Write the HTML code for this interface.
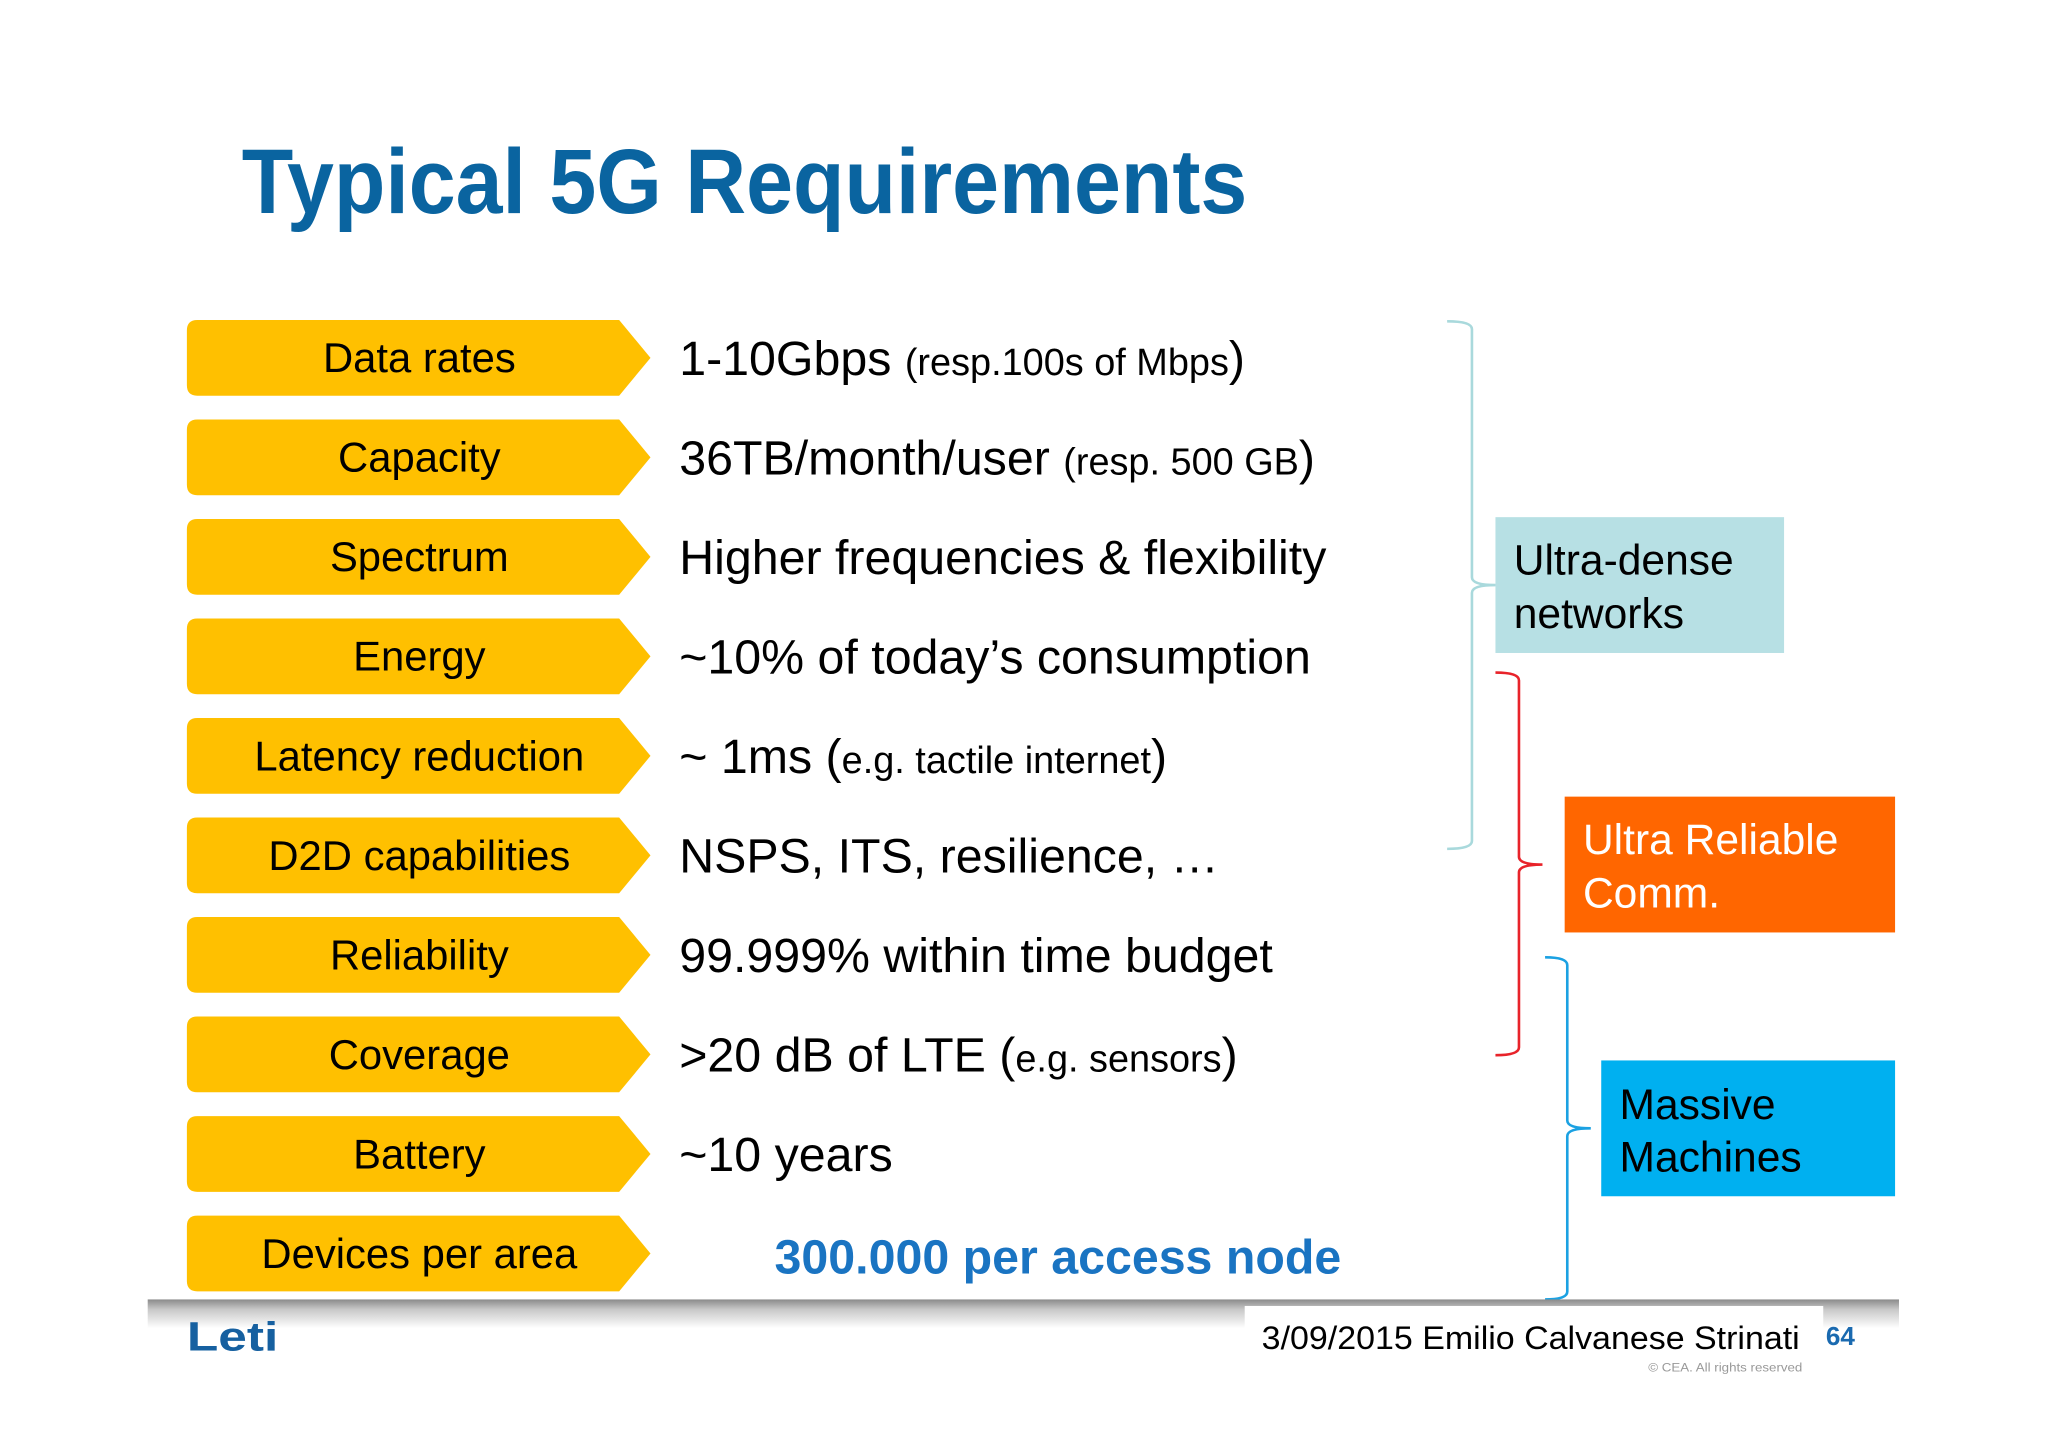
<!DOCTYPE html>
<html><head><meta charset="utf-8"><style>
html,body{margin:0;padding:0;background:#fff;}
svg{display:block;font-family:"Liberation Sans",Arial,sans-serif;}
</style></head><body>
<svg width="2048" height="1447" viewBox="0 0 1568 1108" xmlns="http://www.w3.org/2000/svg">
<defs>
<linearGradient id="fg" x1="0" y1="0" x2="0" y2="1">
<stop offset="0" stop-color="#8a8a8a"/><stop offset="0.35" stop-color="#c8c8c8"/><stop offset="1" stop-color="#ffffff"/>
</linearGradient>
</defs>
<rect width="1568" height="1108" fill="#ffffff"/>
<text x="185" y="163" font-size="70" font-weight="bold" fill="#0a64a0" textLength="770" lengthAdjust="spacingAndGlyphs">Typical 5G Requirements</text>

<g id="rows"></g>

<text x="593" y="975" font-size="37" font-weight="bold" fill="#1a74c2">300.000 per access node</text>

<path d="M1108,246 Q1127,246 1127,252 L1127,442 Q1127,448 1145,448 Q1127,448 1127,454 L1127,644 Q1127,650 1108,650" fill="none" stroke="#a9d9dc" stroke-width="2"/>
<path d="M1145,515 Q1163,515 1163,521 L1163,656 Q1163,662 1181,662 Q1163,662 1163,668 L1163,802 Q1163,808 1145,808" fill="none" stroke="#e8232a" stroke-width="2"/>
<path d="M1183,733 Q1200,733 1200,739 L1200,858 Q1200,864 1218,864 Q1200,864 1200,870 L1200,989 Q1200,995 1183,995" fill="none" stroke="#1ba1e2" stroke-width="2"/>

<rect x="1145" y="396" width="221" height="104" fill="#b7e0e4"/>
<text font-size="32.6" fill="#000"><tspan x="1159" y="440">Ultra-dense</tspan><tspan x="1159" y="481">networks</tspan></text>
<rect x="1198" y="610" width="253" height="104" fill="#ff6600"/>
<text font-size="32.6" fill="#fff"><tspan x="1212" y="654">Ultra Reliable</tspan><tspan x="1212" y="695">Comm.</tspan></text>
<rect x="1226" y="812" width="225" height="104" fill="#00b0f0"/>
<text font-size="32.6" fill="#000"><tspan x="1240" y="857">Massive</tspan><tspan x="1240" y="897">Machines</tspan></text>

<rect x="113" y="995" width="1341" height="22" fill="url(#fg)"/>
<rect x="953" y="1000" width="443" height="46" fill="#ffffff"/>
<text x="143" y="1034" font-size="31" font-weight="bold" fill="#1660a0" textLength="70" lengthAdjust="spacingAndGlyphs">Leti</text>
<text x="966" y="1033" font-size="25" fill="#000" textLength="412" lengthAdjust="spacingAndGlyphs">3/09/2015 Emilio Calvanese Strinati</text>
<text x="1398" y="1030" font-size="20" font-weight="bold" fill="#1a6ab0">64</text>
<text x="1262" y="1050" font-size="9" fill="#999" textLength="118" lengthAdjust="spacingAndGlyphs">© CEA. All rights reserved</text>
</svg>
<script>
const labels = ["Data rates","Capacity","Spectrum","Energy","Latency reduction","D2D capabilities","Reliability","Coverage","Battery","Devices per area"];
const mainText = ["1-10Gbps ","36TB/month/user ","Higher frequencies & flexibility","~10% of today’s consumption","~ 1ms (","NSPS, ITS, resilience, …","99.999% within time budget",">20 dB of LTE (","~10 years",""];
const smallText = ["(resp.100s of Mbps","(resp. 500 GB","","","e.g. tactile internet","","","e.g. sensors","",""];
const closeText = [")",")","","",")","","",")","",""];
const NS = "http://www.w3.org/2000/svg";
const g = document.getElementById('rows');
labels.forEach((lab, i) => {
  const c = 274 + i * 76.2;
  const p = document.createElementNS(NS, 'path');
  p.setAttribute('d', `M151,${c-29} L474,${c-29} L498,${c} L474,${c+29} L151,${c+29} Q143,${c+29} 143,${c+21} L143,${c-21} Q143,${c-29} 151,${c-29} Z`);
  p.setAttribute('fill', '#ffc000');
  
  
  g.appendChild(p);
  const t = document.createElementNS(NS, 'text');
  t.setAttribute('x', 321); t.setAttribute('y', c + 11);
  t.setAttribute('text-anchor', 'middle'); t.setAttribute('font-size', '32');
  t.textContent = lab;
  
  
  g.appendChild(t);
  if (mainText[i]) {
    const v = document.createElementNS(NS, 'text');
    v.setAttribute('x', 520); v.setAttribute('y', c + 13);
    v.setAttribute('font-size', '37');
    v.style.whiteSpace = 'pre';
    const a = document.createElementNS(NS, 'tspan'); a.textContent = mainText[i]; v.appendChild(a);
    if (smallText[i]) { const b = document.createElementNS(NS, 'tspan'); b.setAttribute('font-size', '29'); b.textContent = smallText[i]; v.appendChild(b); }
    if (closeText[i]) { const d = document.createElementNS(NS, 'tspan'); d.textContent = closeText[i]; v.appendChild(d); }
    
    
    g.appendChild(v);
  }
});
</script>
</body></html>
